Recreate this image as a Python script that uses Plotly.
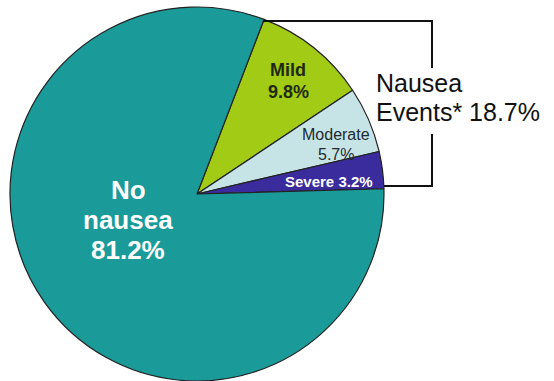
import plotly.graph_objects as go

# Nausea severity breakdown (percent of patients)
categories = ["Mild", "Moderate", "Severe", "No nausea"]
values = [9.8, 5.7, 3.2, 81.2]
colors = ["#A2CB16", "#C6E3E6", "#3A2C9C", "#1A9B9A"]
events_total = 18.7

W, H = 554, 381


def px(x):
    return x / W


def py(y):
    return 1 - y / H


fig = go.Figure()
fig.add_trace(go.Pie(
    labels=categories,
    values=values,
    sort=False,
    direction="clockwise",
    rotation=21,
    marker=dict(colors=colors, line=dict(color="#222222", width=1.2)),
    textinfo="none",
    hoverinfo="label+percent",
    showlegend=False,
    domain=dict(x=[px(10), px(384)], y=[0, 374 / H]),
))

ann = []


def label(x, y, text, size, color, bold=False, xanchor="center"):
    ann.append(dict(
        x=px(x), y=py(y), xref="paper", yref="paper", text=f"<b>{text}</b>" if bold else text,
        showarrow=False, xanchor=xanchor, yanchor="middle", borderpad=0,
        font=dict(family="Arial, Liberation Sans, sans-serif", size=size, color=color),
    ))


v = dict(zip(categories, values))

# No nausea
label(128, 190, "No", 26, "#FFFFFF", bold=True)
label(128, 220, "nausea", 26, "#FFFFFF", bold=True)
label(128, 250, f"{v['No nausea']}%", 26, "#FFFFFF", bold=True)
# Mild
label(288, 70, "Mild", 18, "#1E2A10", bold=True)
label(288, 92, f"{v['Mild']}%", 18, "#1E2A10", bold=True)
# Moderate
label(336, 134, "Moderate", 16, "#1E2A30")
label(336, 154, f"{v['Moderate']}%", 16, "#1E2A30")
# Severe
label(329, 181, f"Severe {v['Severe']}%", 15, "#FFFFFF", bold=True)
# Nausea events bracket label
label(375, 83, "Nausea", 25, "#111111", xanchor="left")
label(375, 112, f"Events* {events_total}%", 25, "#111111", xanchor="left")

line_style = dict(color="#111111", width=2)
shapes = [
    dict(type="path", xref="paper", yref="paper",
         path=f"M {px(263)},{py(21)} L {px(432)},{py(21)} L {px(432)},{py(68)}",
         line=line_style),
    dict(type="path", xref="paper", yref="paper",
         path=f"M {px(432)},{py(134)} L {px(432)},{py(186)} L {px(384)},{py(186)}",
         line=line_style),
]

fig.update_layout(
    width=W, height=H,
    margin=dict(l=0, r=0, t=0, b=0),
    paper_bgcolor="#FFFFFF",
    plot_bgcolor="#FFFFFF",
    annotations=ann,
    shapes=shapes,
)

fig.write_html("out.html")
